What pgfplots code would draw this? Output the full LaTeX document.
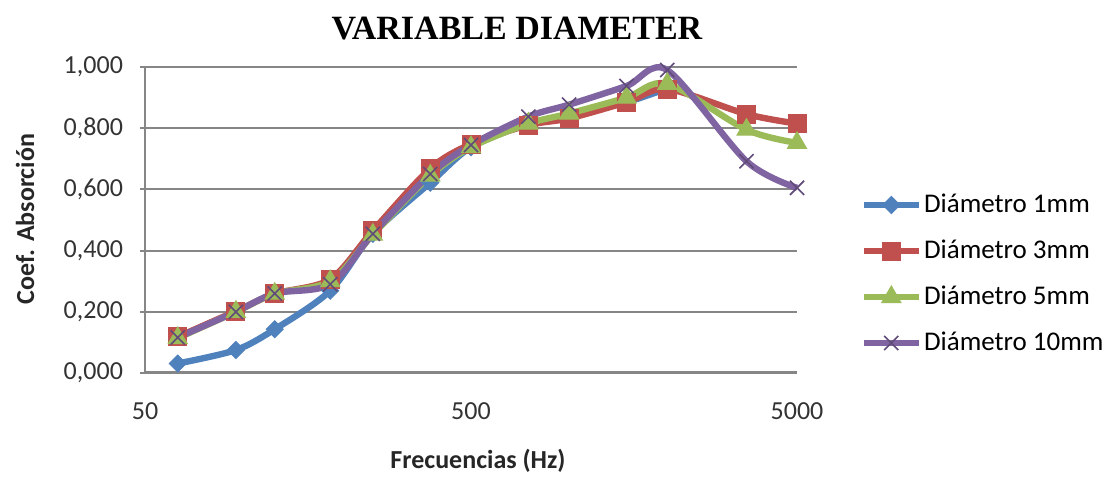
\documentclass[border=0pt]{standalone}
\usepackage{fontspec}
\setmainfont{Carlito}
\newfontfamily\titlefont{Liberation Serif}
\usepackage{pgfplots}
\pgfplotsset{compat=1.18}

\definecolor{xlblue}{HTML}{4F81BD}
\definecolor{xlred}{HTML}{C0504D}
\definecolor{xlgreen}{HTML}{9BBB59}
\definecolor{xlpurple}{HTML}{8064A2}
\definecolor{xlgrid}{HTML}{868686}

\pgfplotsset{
    % line image for the legend, 27.5pt long
    longline/.style={
        legend image code/.code={
            \draw[mark repeat=2, mark phase=2]
                plot coordinates {(0pt,0pt) (13.75pt,0pt) (27.5pt,0pt)};
        }
    }
}

\begin{document}
\begin{tikzpicture}
\useasboundingbox (-72.5pt,-56.5pt) rectangle (485pt,186.5pt);
\begin{axis}[
    at={(0pt,0pt)}, anchor=south west,
    scale only axis,
    width=326pt, height=153pt,
    xmode=log,
    xmin=50, xmax=5000,
    ymin=0, ymax=1,
    xtick={50,500,5000},
    xticklabels={50,500,5000},
    ytick={0,0.2,0.4,0.6,0.8,1},
    yticklabel style={
        /pgf/number format/fixed,
        /pgf/number format/fixed zerofill,
        /pgf/number format/precision=3,
        /pgf/number format/use comma,
        /pgf/number format/assume math mode=true,
        xshift=-5pt
    },
    ticklabel style={font=\fontsize{13}{15}\selectfont, text=black!80},
    xticklabel style={yshift=-9pt},
    axis x line*=bottom,
    axis y line*=left,
    x axis line style={xlgrid, line width=1.5pt},
    y axis line style={xlgrid, line width=1pt},
    xtick style={draw=none},
    ytick style={xlgrid, line width=1pt},
    tick align=outside,
    major tick length=2.5pt,
    ymajorgrids,
    grid style={xlgrid, line width=1pt},
    clip=false,
    legend style={
        draw=none, fill=none,
        at={(1.097,0.3235)}, anchor=west,
        font=\fontsize{13.5}{15}\selectfont,
        inner sep=0pt,
        row sep=9pt,
        nodes={inner sep=1pt, text height=9.5pt, text depth=2.5pt},
    },
    legend cell align=left,
    longline,
]

% Diametro 1mm
\addplot[xlblue, line width=3.2pt, smooth,
    mark=square*, mark size=3pt,
    mark options={rotate=45, solid, line width=0.5pt, fill=xlblue}]
coordinates {
    (63,0.031) (95,0.075) (125,0.143) (185,0.269) (250,0.455)
    (375,0.622) (500,0.738) (750,0.815) (1000,0.840) (1500,0.885)
    (2000,0.930)
};
\addlegendentry{Diámetro 1mm}

% Diametro 3mm
\addplot[xlred, line width=3.2pt, smooth,
    mark=square*, mark size=4.5pt,
    mark options={solid, line width=0.5pt, fill=xlred}]
coordinates {
    (63,0.118) (95,0.202) (125,0.259) (185,0.306) (250,0.465)
    (375,0.668) (500,0.748) (750,0.810) (1000,0.832) (1500,0.885)
    (2000,0.928) (3500,0.846) (5000,0.815)
};
\addlegendentry{Diámetro 3mm}

% Diametro 5mm
\addplot[xlgreen, line width=3.2pt, smooth,
    mark=triangle*, mark size=5.5pt,
    mark options={solid, line width=0.5pt, fill=xlgreen}]
coordinates {
    (63,0.114) (95,0.200) (125,0.259) (185,0.300) (250,0.452)
    (375,0.645) (500,0.738) (750,0.815) (1000,0.848) (1500,0.900)
    (2000,0.945) (3500,0.795) (5000,0.752)
};
\addlegendentry{Diámetro 5mm}

% Diametro 10mm
\addplot[xlpurple, line width=3.2pt, smooth,
    mark=x, mark size=5pt,
    mark options={solid, line width=0.8pt, draw=xlpurple!75!black}]
coordinates {
    (63,0.116) (95,0.200) (125,0.260) (185,0.290) (250,0.455)
    (375,0.650) (500,0.745) (750,0.838) (1000,0.877) (1500,0.938)
    (2000,0.990) (3500,0.692) (5000,0.605)
};
\addlegendentry{Diámetro 10mm}

\end{axis}

\node[font=\titlefont\bfseries\fontsize{17}{20}\selectfont] at (186pt,172pt) {VARIABLE DIAMETER};
\node[rotate=90, font=\bfseries\fontsize{13}{15}\selectfont, text=black!85] at (-60pt,77pt) {Coef. Absorción};
\node[font=\bfseries\fontsize{13}{15}\selectfont, text=black!85] at (166.5pt,-44pt) {Frecuencias (Hz)};
\end{tikzpicture}
\end{document}
